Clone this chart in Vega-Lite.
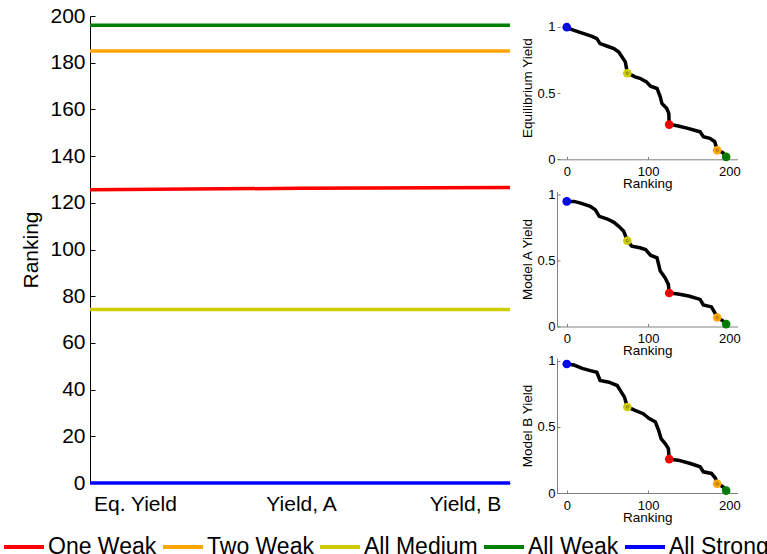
{
  "$schema": "https://vega.github.io/schema/vega-lite/v6.json",
  "padding": {"left": 2, "top": 5, "right": 0, "bottom": 0},
  "datasets": {
    "main": [
      {"measure": 1, "ranking": 125.6, "series": "One Weak"},
      {"measure": 2, "ranking": 126.2, "series": "One Weak"},
      {"measure": 3, "ranking": 126.6, "series": "One Weak"},
      {"measure": 1, "ranking": 185, "series": "Two Weak"},
      {"measure": 2, "ranking": 185, "series": "Two Weak"},
      {"measure": 3, "ranking": 185, "series": "Two Weak"},
      {"measure": 1, "ranking": 74.3, "series": "All Medium"},
      {"measure": 2, "ranking": 74.3, "series": "All Medium"},
      {"measure": 3, "ranking": 74.3, "series": "All Medium"},
      {"measure": 1, "ranking": 196, "series": "All Weak"},
      {"measure": 2, "ranking": 196, "series": "All Weak"},
      {"measure": 3, "ranking": 196, "series": "All Weak"},
      {"measure": 1, "ranking": 0, "series": "All Strong"},
      {"measure": 2, "ranking": 0, "series": "All Strong"},
      {"measure": 3, "ranking": 0, "series": "All Strong"}
    ],
    "curveEq": [
      {"rank": 0, "yield": 0.995}, {"rank": 9, "yield": 0.974}, {"rank": 21, "yield": 0.949},
      {"rank": 31, "yield": 0.929}, {"rank": 37, "yield": 0.912}, {"rank": 41, "yield": 0.874},
      {"rank": 50, "yield": 0.854}, {"rank": 58, "yield": 0.836}, {"rank": 64, "yield": 0.811},
      {"rank": 68, "yield": 0.773}, {"rank": 72, "yield": 0.736}, {"rank": 74.5, "yield": 0.653},
      {"rank": 84, "yield": 0.623}, {"rank": 90, "yield": 0.612}, {"rank": 98, "yield": 0.585},
      {"rank": 103, "yield": 0.552}, {"rank": 111, "yield": 0.535}, {"rank": 115, "yield": 0.472},
      {"rank": 117, "yield": 0.422}, {"rank": 123, "yield": 0.384}, {"rank": 125.5, "yield": 0.347},
      {"rank": 126, "yield": 0.266}, {"rank": 137, "yield": 0.251}, {"rank": 149, "yield": 0.234},
      {"rank": 156, "yield": 0.221}, {"rank": 164, "yield": 0.208}, {"rank": 168, "yield": 0.17},
      {"rank": 176, "yield": 0.158}, {"rank": 182, "yield": 0.133}, {"rank": 185, "yield": 0.07},
      {"rank": 192, "yield": 0.05}, {"rank": 196, "yield": 0.018}
    ],
    "curveA": [
      {"rank": 0, "yield": 0.945}, {"rank": 9, "yield": 0.945}, {"rank": 17, "yield": 0.932},
      {"rank": 29, "yield": 0.907}, {"rank": 35, "yield": 0.883}, {"rank": 40, "yield": 0.832},
      {"rank": 50, "yield": 0.812}, {"rank": 58, "yield": 0.787}, {"rank": 64, "yield": 0.757},
      {"rank": 70, "yield": 0.72}, {"rank": 74.5, "yield": 0.648}, {"rank": 80, "yield": 0.607},
      {"rank": 90, "yield": 0.595}, {"rank": 97, "yield": 0.581}, {"rank": 103, "yield": 0.539},
      {"rank": 111, "yield": 0.519}, {"rank": 115, "yield": 0.419}, {"rank": 121, "yield": 0.368},
      {"rank": 125, "yield": 0.318}, {"rank": 126, "yield": 0.253}, {"rank": 137, "yield": 0.245},
      {"rank": 150, "yield": 0.23}, {"rank": 164, "yield": 0.205}, {"rank": 168, "yield": 0.163},
      {"rank": 178, "yield": 0.148}, {"rank": 182, "yield": 0.105}, {"rank": 185, "yield": 0.068},
      {"rank": 192, "yield": 0.043}, {"rank": 196, "yield": 0.018}
    ],
    "curveB": [
      {"rank": 0, "yield": 0.975}, {"rank": 9, "yield": 0.967}, {"rank": 19, "yield": 0.942},
      {"rank": 29, "yield": 0.925}, {"rank": 37, "yield": 0.912}, {"rank": 41, "yield": 0.85},
      {"rank": 52, "yield": 0.837}, {"rank": 62, "yield": 0.812}, {"rank": 66, "yield": 0.774},
      {"rank": 71, "yield": 0.724}, {"rank": 74.5, "yield": 0.65}, {"rank": 84, "yield": 0.624},
      {"rank": 94, "yield": 0.599}, {"rank": 101, "yield": 0.564}, {"rank": 109, "yield": 0.536},
      {"rank": 113, "yield": 0.474}, {"rank": 116, "yield": 0.411}, {"rank": 121, "yield": 0.373},
      {"rank": 125, "yield": 0.336}, {"rank": 126, "yield": 0.256}, {"rank": 137, "yield": 0.248},
      {"rank": 152, "yield": 0.223}, {"rank": 164, "yield": 0.198}, {"rank": 168, "yield": 0.16},
      {"rank": 178, "yield": 0.148}, {"rank": 183, "yield": 0.11}, {"rank": 185, "yield": 0.07},
      {"rank": 192, "yield": 0.048}, {"rank": 196, "yield": 0.018}
    ],
    "ptsEq": [
      {"rank": 0, "yield": 0.998, "series": "All Strong"},
      {"rank": 74.5, "yield": 0.65, "series": "All Medium"},
      {"rank": 126, "yield": 0.262, "series": "One Weak"},
      {"rank": 185, "yield": 0.068, "series": "Two Weak"},
      {"rank": 196, "yield": 0.018, "series": "All Weak"}
    ],
    "ptsA": [
      {"rank": 0, "yield": 0.945, "series": "All Strong"},
      {"rank": 74.5, "yield": 0.648, "series": "All Medium"},
      {"rank": 126, "yield": 0.253, "series": "One Weak"},
      {"rank": 185, "yield": 0.068, "series": "Two Weak"},
      {"rank": 196, "yield": 0.018, "series": "All Weak"}
    ],
    "ptsB": [
      {"rank": 0, "yield": 0.975, "series": "All Strong"},
      {"rank": 74.5, "yield": 0.65, "series": "All Medium"},
      {"rank": 126, "yield": 0.256, "series": "One Weak"},
      {"rank": 185, "yield": 0.07, "series": "Two Weak"},
      {"rank": 196, "yield": 0.018, "series": "All Weak"}
    ]
  },
  "spacing": 3,
  "hconcat": [
    {
      "width": 420,
      "height": 467,
      "data": {"name": "main"},
      "mark": {"type": "line", "strokeWidth": 3.5},
      "encoding": {
        "x": {
          "field": "measure", "type": "quantitative",
          "scale": {"domain": [1, 3], "nice": false, "zero": false},
          "axis": {
            "values": [1.214, 2.005, 2.786],
            "labelExpr": "datum.value < 1.5 ? 'Eq. Yield' : datum.value < 2.5 ? 'Yield, A' : 'Yield, B'",
            "ticks": false, "title": null, "labelFontSize": 21, "labelPadding": 10.7,
            "labelFlush": false, "domainColor": "black", "domainWidth": 1
          }
        },
        "y": {
          "field": "ranking", "type": "quantitative",
          "scale": {"domain": [0, 200], "nice": false},
          "axis": {
            "values": [0, 20, 40, 60, 80, 100, 120, 140, 160, 180, 200],
            "title": "Ranking", "titleFontSize": 21, "titlePadding": 8,
            "labelFontSize": 21, "tickSize": -5, "labelPadding": 10,
            "domainColor": "black", "tickColor": "black"
          }
        },
        "color": {
          "field": "series", "type": "nominal",
          "scale": {
            "domain": ["One Weak", "Two Weak", "All Medium", "All Weak", "All Strong"],
            "range": ["#FF0000", "#FFA500", "#CCCC00", "#008000", "#0000FF"]
          },
          "legend": {
            "orient": "none", "legendX": -88, "legendY": 509, "direction": "horizontal",
            "title": null, "symbolType": "stroke", "symbolSize": 1600, "symbolStrokeWidth": 4,
            "labelFontSize": 23, "labelOffset": 2, "columnPadding": -2, "padding": 0,
            "labelColor": "black", "labelLimit": 0
          }
        }
      }
    },
    {
      "vconcat": [
        {
          "width": 180.5, "height": 143.3,
          "layer": [
            {"mark": {"type": "rule", "color": "#808080", "strokeWidth": 1},
             "encoding": {"x": {"datum": -12, "type": "quantitative"}, "y": {"datum": 0, "type": "quantitative"}, "y2": {"datum": 1.02}}},
            {"data": {"name": "curveEq"}, "mark": {"type": "line", "color": "black", "strokeWidth": 3.5},
             "encoding": {"x": {"field": "rank", "type": "quantitative"}, "y": {"field": "yield", "type": "quantitative"}}},
            {"data": {"name": "ptsEq"}, "mark": {"type": "point", "filled": true, "size": 75, "opacity": 1},
             "encoding": {"x": {"field": "rank", "type": "quantitative"}, "y": {"field": "yield", "type": "quantitative"},
               "color": {"field": "series", "type": "nominal", "legend": null}}},
            {"data": {"name": "ptsEq"}, "mark": {"type": "point", "filled": false, "size": 6, "color": "#444", "strokeWidth": 0.7},
             "encoding": {"x": {"field": "rank", "type": "quantitative"}, "y": {"field": "yield", "type": "quantitative"}}}
          ],
          "encoding": {
            "x": {"field": "rank", "type": "quantitative", "scale": {"domain": [-12, 210], "nice": false, "zero": false},
              "axis": {"values": [0, 100, 200], "title": "Ranking", "titleFontSize": 13.5, "titlePadding": -2,
                "labelFontSize": 13, "tickSize": -3, "labelPadding": 9.4, "labelFlush": false,
                "domainColor": "#808080", "tickColor": "#808080"}},
            "y": {"field": "yield", "type": "quantitative", "scale": {"domain": [0, 1.0826], "nice": false},
              "axis": {"values": [0, 0.5, 1], "format": "~g", "title": "Equilibrium Yield", "titleFontSize": 13.5, "titlePadding": 2.4,
                "labelFontSize": 13, "tickSize": -3, "labelPadding": 5, "domain": false,
                "tickColor": "#808080"}}
          }
        },
        {
          "width": 180.5, "height": 135,
          "layer": [
            {"data": {"name": "curveA"}, "mark": {"type": "line", "color": "black", "strokeWidth": 3.5},
             "encoding": {"x": {"field": "rank", "type": "quantitative"}, "y": {"field": "yield", "type": "quantitative"}}},
            {"data": {"name": "ptsA"}, "mark": {"type": "point", "filled": true, "size": 75, "opacity": 1},
             "encoding": {"x": {"field": "rank", "type": "quantitative"}, "y": {"field": "yield", "type": "quantitative"},
               "color": {"field": "series", "type": "nominal", "legend": null}}},
            {"data": {"name": "ptsA"}, "mark": {"type": "point", "filled": false, "size": 6, "color": "#444", "strokeWidth": 0.7},
             "encoding": {"x": {"field": "rank", "type": "quantitative"}, "y": {"field": "yield", "type": "quantitative"}}}
          ],
          "encoding": {
            "x": {"field": "rank", "type": "quantitative", "scale": {"domain": [-12, 210], "nice": false, "zero": false},
              "axis": {"values": [0, 100, 200], "title": "Ranking", "titleFontSize": 13.5, "titlePadding": -2,
                "labelFontSize": 13, "tickSize": -3, "labelPadding": 9.4, "labelFlush": false,
                "domainColor": "#808080", "tickColor": "#808080"}},
            "y": {"field": "yield", "type": "quantitative", "scale": {"domain": [0, 1.02], "nice": false},
              "axis": {"values": [0, 0.5, 1], "format": "~g", "title": "Model A Yield", "titleFontSize": 13.5, "titlePadding": 2.4,
                "labelFontSize": 13, "tickSize": -3, "labelPadding": 5,
                "domainColor": "#808080", "tickColor": "#808080"}}
          }
        },
        {
          "width": 180.5, "height": 135,
          "layer": [
            {"data": {"name": "curveB"}, "mark": {"type": "line", "color": "black", "strokeWidth": 3.5},
             "encoding": {"x": {"field": "rank", "type": "quantitative"}, "y": {"field": "yield", "type": "quantitative"}}},
            {"data": {"name": "ptsB"}, "mark": {"type": "point", "filled": true, "size": 75, "opacity": 1},
             "encoding": {"x": {"field": "rank", "type": "quantitative"}, "y": {"field": "yield", "type": "quantitative"},
               "color": {"field": "series", "type": "nominal", "legend": null}}},
            {"data": {"name": "ptsB"}, "mark": {"type": "point", "filled": false, "size": 6, "color": "#444", "strokeWidth": 0.7},
             "encoding": {"x": {"field": "rank", "type": "quantitative"}, "y": {"field": "yield", "type": "quantitative"}}}
          ],
          "encoding": {
            "x": {"field": "rank", "type": "quantitative", "scale": {"domain": [-12, 210], "nice": false, "zero": false},
              "axis": {"values": [0, 100, 200], "title": "Ranking", "titleFontSize": 13.5, "titlePadding": -2,
                "labelFontSize": 13, "tickSize": -3, "labelPadding": 9.4, "labelFlush": false,
                "domainColor": "#808080", "tickColor": "#808080"}},
            "y": {"field": "yield", "type": "quantitative", "scale": {"domain": [0, 1.02], "nice": false},
              "axis": {"values": [0, 0.5, 1], "format": "~g", "title": "Model B Yield", "titleFontSize": 13.5, "titlePadding": 2.4,
                "labelFontSize": 13, "tickSize": -3, "labelPadding": 5,
                "domainColor": "#808080", "tickColor": "#808080"}}
          }
        }
      ],
      "bounds": "flush",
      "spacing": 31.5
    }
  ],
  "config": {
    "font": "Liberation Sans",
    "view": {"stroke": null},
    "axis": {"labelColor": "black", "titleColor": "black", "titleFontWeight": "normal", "grid": false,
      "labelFont": "Liberation Sans", "titleFont": "Liberation Sans"},
    "legend": {"labelFont": "Liberation Sans"}
  }
}
